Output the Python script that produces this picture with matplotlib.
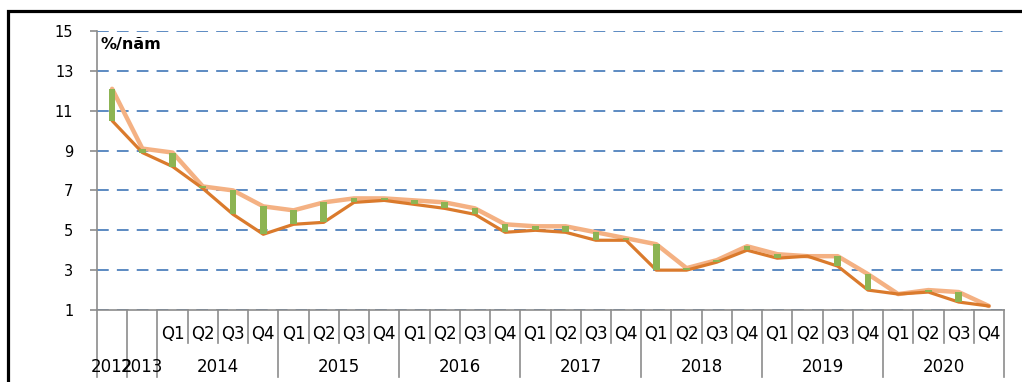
import matplotlib.pyplot as plt
from matplotlib.lines import Line2D

# Lãi suất theo quý (%/năm): đường trên / đường dưới
years = ['2012', '2013', '2014', '2015', '2016', '2017', '2018', '2019', '2020']
quarters = ['Q1', 'Q2', 'Q3', 'Q4']
upper = [12.1, 9.1,
         8.9, 7.2, 7.0, 6.2,
         6.0, 6.4, 6.6, 6.6,
         6.5, 6.4, 6.1, 5.3,
         5.2, 5.2, 4.9, 4.6,
         4.3, 3.1, 3.5, 4.2,
         3.8, 3.7, 3.7, 2.8,
         1.8, 2.0, 1.9, 1.2]
lower = [10.5, 8.9,
         8.2, 7.1, 5.8, 4.8,
         5.3, 5.4, 6.4, 6.5,
         6.3, 6.1, 5.8, 4.9,
         5.0, 4.9, 4.5, 4.5,
         3.0, 3.0, 3.4, 4.0,
         3.6, 3.7, 3.2, 2.0,
         1.8, 1.9, 1.4, 1.2]
yticks = [1, 3, 5, 7, 9, 11, 13, 15]

n = len(upper)
x = list(range(n))
axis_gray = '#8c8c8c'
xfs = 12

fig = plt.figure(figsize=(10.22, 3.82), dpi=100)
ax = fig.add_axes([97 / 1022, 1 - 310 / 382, 907 / 1022, 279 / 382])

ax.plot(x, upper, color='#F4B183', lw=3.2, zorder=3,
        solid_joinstyle='round', solid_capstyle='round')
ax.plot(x, lower, color='#DA7A2C', lw=2.3, zorder=4,
        solid_joinstyle='round', solid_capstyle='round')
ax.bar(x, [u - l for u, l in zip(upper, lower)], bottom=lower,
       width=0.22, color='#8DB453', zorder=5)

ax.set_xlim(-0.5, n - 0.5)
ax.set_ylim(1, 15)
ax.set_yticks(yticks)
ax.set_xticks([])
ax.grid(axis='y', color='#4F81BD', lw=1.3, linestyle=(0, (6.5, 4.5)), zorder=1)
ax.tick_params(axis='y', direction='out', length=5, width=1.2,
               color=axis_gray, pad=12, labelsize=10.5)
for side in ['top', 'right']:
    ax.spines[side].set_visible(False)
for side in ['left', 'bottom']:
    ax.spines[side].set_color(axis_gray)
    ax.spines[side].set_linewidth(1.2)
ax.spines['left'].set_bounds(1, 15)

ax.text(-0.38, 14.3, '%/năm', fontsize=11.5, fontweight='bold', va='center', ha='left')

# hai tầng nhãn trục hoành: quý và năm
tr = ax.get_xaxis_transform()
q_row, y_row = -0.118, -0.24
ax.plot([-0.5, -0.5], [0, y_row], transform=tr, color=axis_gray, lw=1.2, clip_on=False)
ax.text(0, -0.204, years[0], transform=tr, ha='center', va='center', fontsize=xfs)
ax.text(1, -0.204, years[1], transform=tr, ha='center', va='center', fontsize=xfs)
ax.plot([0.5, 0.5], [0, y_row], transform=tr, color=axis_gray, lw=1.2, clip_on=False)
ax.plot([1.5, 1.5], [0, y_row], transform=tr, color=axis_gray, lw=1.2, clip_on=False)
start = 2
for year in years[2:]:
    for k, q in enumerate(quarters):
        pos = start + k
        ax.text(pos, -0.086, q, transform=tr, ha='center', va='center', fontsize=xfs)
        edge = pos + 0.5
        bottom = y_row if k == len(quarters) - 1 else q_row
        ax.plot([edge, edge], [0, bottom], transform=tr, color=axis_gray, lw=1.2,
                clip_on=False)
    ax.text(start + 1.5, -0.204, year, transform=tr, ha='center', va='center', fontsize=xfs)
    start += len(quarters)

# khung viền ngoài (chỉ thấy cạnh trái và cạnh trên)
fx = 7.5 / 1022
fy = 1 - 10.5 / 382
fig.add_artist(Line2D([fx, fx, 1.05], [-0.05, fy, fy], color='black', lw=2.3,
                      solid_joinstyle='miter', transform=fig.transFigure))

fig.savefig('out.png', dpi=100)
